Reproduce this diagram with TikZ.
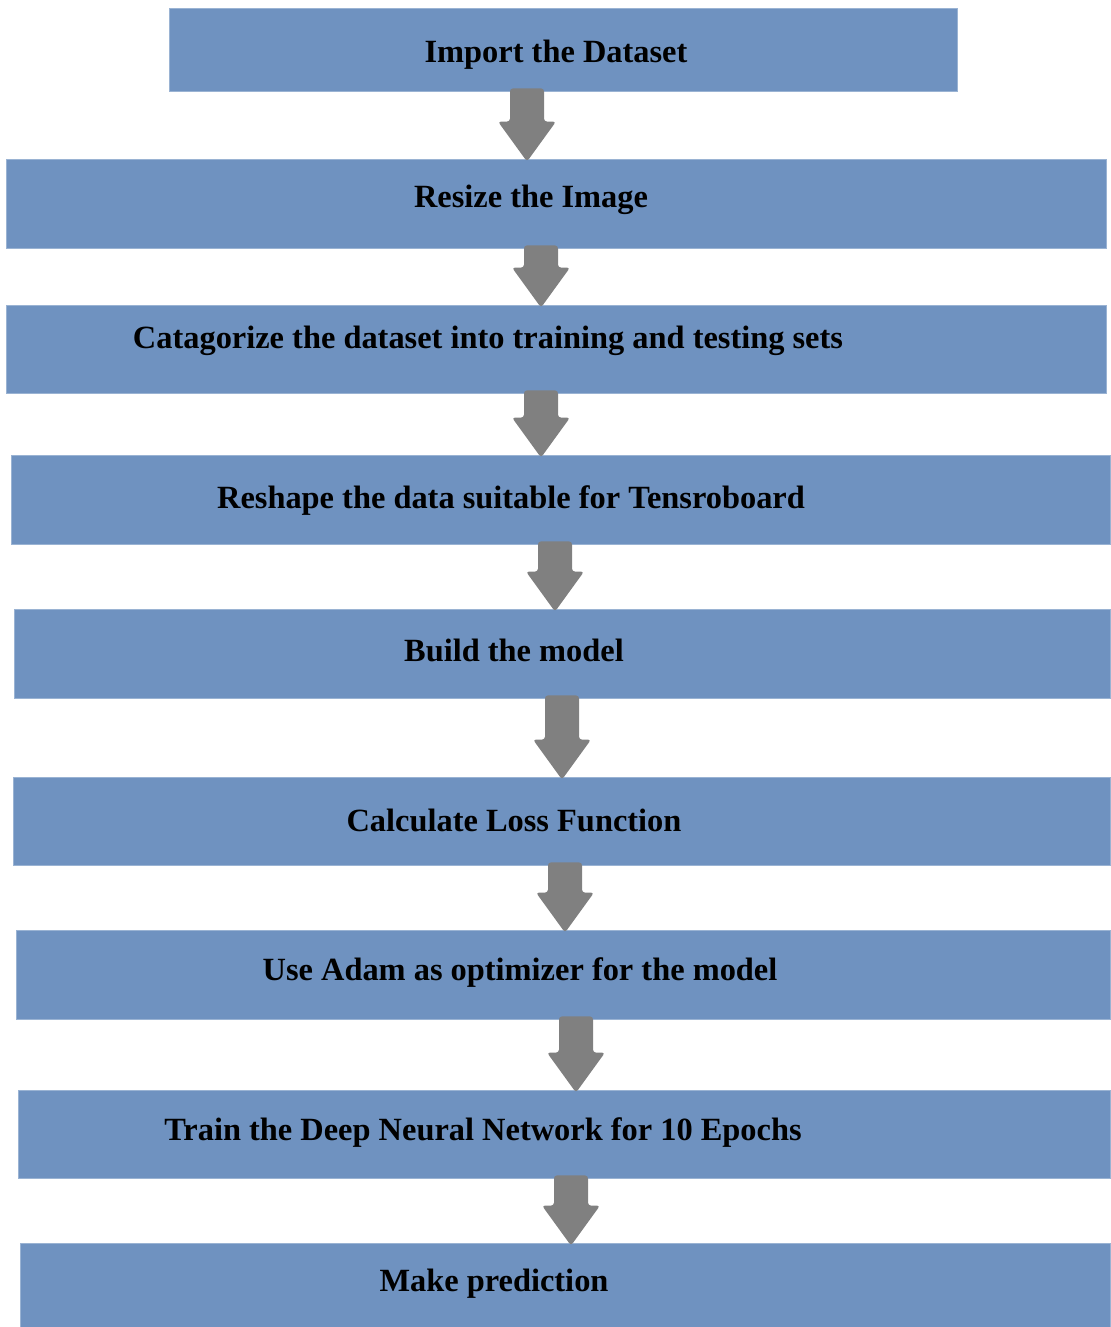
\documentclass[tikz,border=0pt]{standalone}
\usepackage{fontspec}
\setmainfont{Liberation Serif}
\usepackage{tikz}
\usetikzlibrary{calc,fit}
\definecolor{boxblue}{RGB}{111,146,192}
\definecolor{arrowgray}{RGB}{128,128,128}
\tikzstyle{etape} = [rectangle, fill=boxblue, draw=boxblue!70!white, line width=0.4pt, inner sep=0pt]
\tikzstyle{texte} = [anchor=base, inner sep=0pt, font=\fontsize{16.2pt}{19pt}\selectfont\bfseries]
\tikzstyle{fleche} = [fill=arrowgray, rounded corners=1.5pt]
\newcommand{\flowarrow}[3]{%
  \coordinate (ax) at (#3,0);
  \coordinate (top) at ($(#1.south -| ax)+(0,-3)$);
  \coordinate (tip) at ($(#2.north -| ax)+(0,3)$);
  \fill[fleche] ($(top)+(-17,0)$) -- ($(top)+(17,0)$) -- ($(tip)+(17,-40)$) -- ($(tip)+(29,-40)$)
    -- (tip) -- ($(tip)+(-29,-40)$) -- ($(tip)+(-17,-40)$) -- cycle;
}

\begin{document}
\begin{tikzpicture}[x=0.5pt, y=-0.5pt]
        \useasboundingbox (0,0) rectangle (1110,1327);

        \node (b1) [etape, fit={(169,8) (957,91)}] {};
        \node (b2) [etape, fit={(6,159) (1106,248)}] {};
        \node (b3) [etape, fit={(6,305) (1106,393)}] {};
        \node (b4) [etape, fit={(11,455) (1110,544)}] {};
        \node (b5) [etape, fit={(14,609) (1110,698)}] {};
        \node (b6) [etape, fit={(13,777) (1110,865)}] {};
        \node (b7) [etape, fit={(16,930) (1110,1019)}] {};
        \node (b8) [etape, fit={(18,1090) (1110,1178)}] {};
        \node (b9) [etape, fit={(20,1243) (1110,1327)}] {};

        \node (t1) [texte] at (556,63)   {Import the Dataset};
        \node (t2) [texte] at (531,207)  {Resize the Image};
        \node (t3) [texte] at (488,348)  {Catagorize the dataset into training and testing sets};
        \node (t4) [texte] at (511,508)  {Reshape the data suitable for Tensroboard};
        \node (t5) [texte] at (514,661)  {Build the model};
        \node (t6) [texte] at (514,831)  {Calculate Loss Function};
        \node (t7) [texte] at (520,980)  {Use Adam as optimizer for the model};
        \node (t8) [texte] at (483,1140) {Train the Deep Neural Network for 10 Epochs};
        \node (t9) [texte] at (494,1291) {Make prediction};

        \flowarrow{b1}{b2}{527}
        \flowarrow{b2}{b3}{541}
        \flowarrow{b3}{b4}{541}
        \flowarrow{b4}{b5}{555}
        \flowarrow{b5}{b6}{562}
        \flowarrow{b6}{b7}{565}
        \flowarrow{b7}{b8}{576}
        \flowarrow{b8}{b9}{571}
    \end{tikzpicture}
\end{document}
